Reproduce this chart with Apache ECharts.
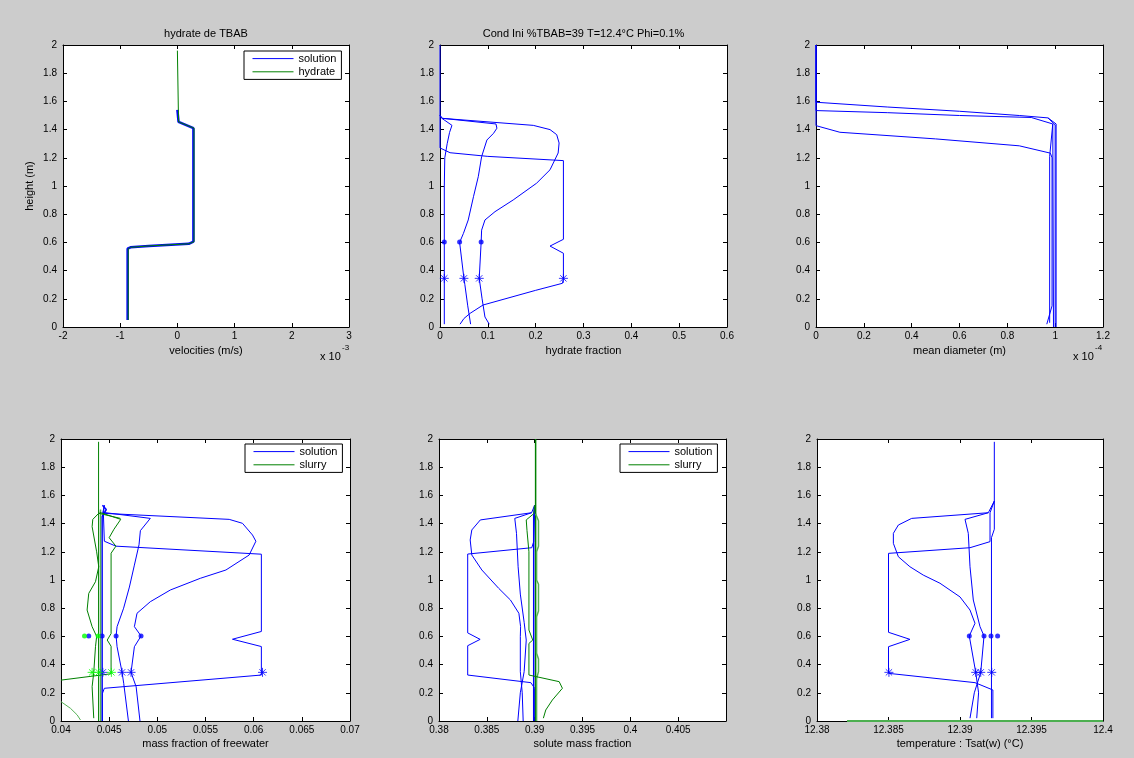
<!DOCTYPE html>
<html><head><meta charset="utf-8">
<script src="https://cdn.jsdelivr.net/npm/echarts@6/dist/echarts.min.js"></script>
<style>html,body{margin:0;padding:0;background:#cccccc;}#c{width:1134px;height:758px;}</style>
</head><body><div id="c"></div><script>
// ---------- DATA ----------
const yTicks = [0,0.2,0.4,0.6,0.8,1,1.2,1.4,1.6,1.8,2];
// subplot 1 : velocities (x in 1e-3 m/s)
const velSolution = [[-0.87,0.05],[-0.87,0.555],[-0.82,0.565],[-0.5,0.575],[0.2,0.59],[0.28,0.605],[0.28,1.41],[0.02,1.455],[0,1.46],[0,1.54]];
const velHydrate  = [[-0.86,0.05],[-0.86,0.555],[-0.82,0.565],[-0.5,0.575],[0.2,0.59],[0.29,0.605],[0.29,1.41],[0.02,1.455],[0,1.46],[0,1.96]];
// subplot 2 : hydrate fraction
const frac1 = [[0.042,0.02],[0.05,0.06],[0.063,0.097],[0.09,0.156],[0.2,0.26],[0.256,0.31],[0.258,0.345],[0.258,0.523],[0.23,0.574],[0.258,0.622],[0.258,1.18],[0.1,1.21],[0.021,1.236],[0,1.27],[0,2]];
const frac2 = [[0.009,0.02],[0.009,0.35],[0.009,0.6],[0.009,1.0],[0.01,1.2],[0.015,1.3],[0.02,1.38],[0.025,1.43],[0.004,1.48],[0,1.5]];
const frac3 = [[0.064,0.02],[0.058,0.15],[0.052,0.3],[0.05,0.345],[0.041,0.6],[0.049,0.664],[0.059,0.759],[0.07,0.924],[0.08,1.066],[0.087,1.208],[0.098,1.326],[0.112,1.374],[0.119,1.41],[0.117,1.44],[0.005,1.48],[0,1.5]];
const frac4 = [[0.103,0.02],[0.094,0.071],[0.088,0.2],[0.082,0.345],[0.086,0.6],[0.087,0.687],[0.094,0.759],[0.115,0.818],[0.153,0.901],[0.202,1.02],[0.23,1.115],[0.247,1.234],[0.249,1.305],[0.244,1.364],[0.23,1.4],[0.195,1.43],[0.004,1.48],[0,1.5]];
const fracStars = [[0.009,0.345],[0.05,0.345],[0.082,0.345],[0.258,0.345]];
const fracDots  = [[0.009,0.603],[0.041,0.603],[0.086,0.603]];
// subplot 3 : mean diameter (x in 1e-4 m)
const diam1 = [[0,2],[0,1.594],[0.3,1.56],[0.6,1.53],[0.85,1.5],[0.97,1.483],[1.0,1.433],[1.0,0]];
const diam2 = [[0,2],[0,1.535],[0.3,1.52],[0.6,1.5],[0.9,1.486],[0.99,1.44],[0.993,0]];
const diam3 = [[0,2],[0,1.428],[0.1,1.381],[0.5,1.334],[0.85,1.285],[0.98,1.233],[0.987,1.2],[0.987,0.15],[0.965,0.02]];
const diam4 = [[0.99,1.44],[0.977,1.21],[0.977,0.03]];
const diam5 = [[0.97,1.483],[1.004,1.44],[1.004,0]];
// subplot 4 : mass fraction of freewater
const fwSol1 = [[0.0443,0],[0.0443,0.196],[0.0445,0.232],[0.0608,0.326],[0.0608,0.528],[0.0578,0.58],[0.0608,0.635],[0.0608,1.183],[0.0457,1.24],[0.0445,1.275],[0.0444,1.47],[0.0445,1.53]];
const fwSol2 = [[0.0482,0],[0.0478,0.243],[0.04727,0.345],[0.04762,0.527],[0.04831,0.603],[0.04762,0.669],[0.04789,0.764],[0.04927,0.846],[0.05135,0.929],[0.05446,1.012],[0.05712,1.071],[0.05953,1.177],[0.06023,1.275],[0.05988,1.319],[0.05884,1.402],[0.05746,1.43],[0.04433,1.473],[0.0445,1.53]];
const fwSol3 = [[0.047,0],[0.04651,0.267],[0.04634,0.345],[0.04582,0.527],[0.04572,0.603],[0.04582,0.669],[0.0465,0.8],[0.0471,0.95],[0.0476,1.1],[0.0481,1.25],[0.04824,1.35],[0.04927,1.437],[0.04433,1.48]];
const fwSol4 = [[0.04427,0],[0.04427,1.45],[0.0447,1.5],[0.0443,1.53]];
const fwSl1 = [[0.0439,0],[0.0439,1.98]];
const fwSl2 = [[0.0441,0],[0.0441,1.5]];
const fwSl3 = [[0.04,0.29],[0.0452,0.335],[0.0452,0.53],[0.0448,0.574],[0.0452,0.62],[0.0452,1.19],[0.0457,1.24],[0.045,1.3],[0.0455,1.36],[0.0462,1.43],[0.044,1.48]];
const fwSl4 = [[0.0434,0.02],[0.04323,0.243],[0.0434,0.345],[0.04358,0.527],[0.0437,0.6],[0.04323,0.669],[0.04271,0.787],[0.04288,0.905],[0.04358,0.988],[0.04392,1.094],[0.0437,1.2],[0.04323,1.378],[0.0433,1.43],[0.04392,1.473],[0.04617,1.437]];
const fwSl5 = [[0.04,0.137],[0.04098,0.09],[0.04168,0.043],[0.04202,0.007]];
const fwSolStars = [[0.04434,0.345],[0.04634,0.345],[0.04727,0.345],[0.06092,0.345]];
const fwSolDots  = [[0.04288,0.603],[0.04427,0.603],[0.04572,0.603],[0.04831,0.603]];
const fwSlStars  = [[0.04323,0.345],[0.04392,0.345],[0.04523,0.345]];
const fwSlDots   = [[0.04244,0.603],[0.04386,0.603]];
// subplot 5 : solute mass fraction
const smSol1 = [[0.39,0],[0.39,0.232],[0.3896,0.272],[0.383,0.326],[0.383,0.534],[0.3843,0.579],[0.383,0.625],[0.383,1.184],[0.3897,1.229],[0.3899,1.272],[0.39,1.48],[0.39,1.53]];
const smSol2 = [[0.3888,0],[0.3887,0.2],[0.3885,0.35],[0.3885,0.6],[0.38853,0.669],[0.38835,0.764],[0.38747,0.858],[0.38624,0.941],[0.38448,1.071],[0.38343,1.177],[0.38326,1.284],[0.38343,1.355],[0.38432,1.426],[0.38968,1.477],[0.39,1.53]];
const smSol3 = [[0.38824,0],[0.3885,0.2],[0.3889,0.35],[0.38912,0.574],[0.3889,0.7],[0.3885,0.9],[0.38827,1.094],[0.3881,1.331],[0.38792,1.437],[0.38968,1.477]];
const smSol4 = [[0.3899,0],[0.3899,1.45],[0.39,1.53]];
const smSl1 = [[0.3901,0],[0.3901,2]];
const smSl2 = [[0.3902,0],[0.3902,0.3],[0.3904,0.35],[0.3904,0.44],[0.3902,0.48],[0.3902,0.74],[0.3904,0.78],[0.3904,0.97],[0.3902,1.0],[0.3902,1.2],[0.3904,1.24],[0.3904,1.42],[0.3901,1.47]];
const smSl3 = [[0.39091,0.02],[0.39116,0.078],[0.39185,0.149],[0.3929,0.232],[0.39256,0.279],[0.3894,0.326],[0.3894,0.55],[0.3898,0.574],[0.3894,0.645],[0.3894,1.2],[0.3892,1.35],[0.38912,1.426],[0.3899,1.47],[0.39,1.53]];
// subplot 6 : temperature Tsat(w)
const tp1 = [[12.3923,0.02],[12.3923,0.22],[12.39105,0.272],[12.385,0.338],[12.385,0.527],[12.3865,0.579],[12.385,0.629],[12.385,1.189],[12.3907,1.229],[12.3921,1.272],[12.3921,1.477],[12.3924,1.56]];
const tp2 = [[12.39117,0.02],[12.3913,0.2],[12.3911,0.345],[12.39065,0.603],[12.39105,0.693],[12.3907,0.787],[12.39,0.88],[12.3886,0.977],[12.38743,1.035],[12.3865,1.094],[12.38569,1.165],[12.38534,1.26],[12.38534,1.331],[12.38569,1.39],[12.38662,1.437],[12.39198,1.477],[12.3924,1.56]];
const tp3 = [[12.3907,0.02],[12.391,0.2],[12.39145,0.345],[12.39168,0.603],[12.3914,0.669],[12.39093,0.858],[12.3907,1.094],[12.39058,1.331],[12.39035,1.43],[12.39198,1.477]];
const tp4 = [[12.3922,0.02],[12.3922,1.3],[12.3924,1.36],[12.3924,1.98]];
const tpSlurry = [[12.3821,0],[12.4,0]];
const tpStars = [[12.38503,0.345],[12.3911,0.345],[12.39145,0.345],[12.39222,0.345]];
const tpDots  = [[12.39065,0.603],[12.39168,0.603],[12.39217,0.603],[12.39263,0.603]];

// ---------- LAYOUT ----------
const BLUE='#0000ff', GREEN='#008000', LGREEN='#00ff00', FONT='"Liberation Sans", Arial, sans-serif';
const grids = [
  {left:63, top:45, width:286, height:282},
  {left:440, top:45, width:287, height:282},
  {left:816, top:45, width:287, height:282},
  {left:61, top:439, width:289, height:282},
  {left:439, top:439, width:287, height:282},
  {left:817, top:439, width:286, height:282}
];
const xCfg = [
  {min:-2, max:3, interval:1, name:'velocities (m/s)', title:'hydrate de TBAB'},
  {min:0, max:0.6, interval:0.1, name:'hydrate fraction', title:'Cond Ini %TBAB=39 T=12.4°C Phi=0.1%'},
  {min:0, max:1.2, interval:0.2, name:'mean diameter (m)', title:''},
  {min:0.04, max:0.07, interval:0.005, name:'mass fraction of freewater', title:''},
  {min:0.38, max:0.41, interval:0.005, name:'solute mass fraction', title:'', hideAbove:0.4075},
  {min:12.38, max:12.4, interval:0.005, name:'temperature : Tsat(w) (°C)', title:''}
];
const xAxis=[], yAxis=[];
xCfg.forEach((c,i)=>{
  const common = {type:'value', gridIndex:i, min:c.min, max:c.max, interval:c.interval,
    axisLine:{show:true, onZero:false, lineStyle:{color:'#000', width:1}},
    axisTick:{show:true, inside:true, length:4, lineStyle:{color:'#000'}},
    splitLine:{show:false}};
  xAxis.push(Object.assign({}, common, {position:'bottom',
    axisLabel:{color:'#000', fontSize:10, fontFamily:FONT, margin:4,
      formatter:v=>(c.hideAbove!==undefined && v>c.hideAbove)?'':String(+v.toFixed(4))},
    name:c.name, nameLocation:'middle', nameGap:i<3?18:17,
    nameTextStyle:{color:'#000', fontSize:11, fontFamily:FONT}}));
  xAxis.push(Object.assign({}, common, {position:'top', axisLabel:{show:false},
    name:c.title, nameLocation:'middle', nameGap:6,
    nameTextStyle:{color:'#000', fontSize:11, fontFamily:FONT}}));
  const yc = {type:'value', gridIndex:i, min:0, max:2, interval:0.2,
    axisLine:{show:true, onZero:false, lineStyle:{color:'#000', width:1}},
    axisTick:{show:true, inside:true, length:4, lineStyle:{color:'#000'}},
    splitLine:{show:false}};
  yAxis.push(Object.assign({}, yc, {position:'left',
    axisLabel:{color:'#000', fontSize:10, fontFamily:FONT, margin:6},
    name:i===0?'height (m)':'', nameLocation:'middle', nameGap:28, nameRotate:90,
    nameTextStyle:{color:'#000', fontSize:11, fontFamily:FONT}}));
  yAxis.push(Object.assign({}, yc, {position:'right', axisLabel:{show:false}}));
});

function ln(g, name, data, color, width, extra){
  return Object.assign({type:'line', name:name, data:data, xAxisIndex:2*g, yAxisIndex:2*g,
    symbol:'none', showSymbol:false, animation:false, silent:true,
    lineStyle:{color:color, width:width||1}, itemStyle:{color:color}}, extra||{});
}
const STAR='path://M5,0L5,10M0,5L10,5M1.5,1.5L8.5,8.5M1.5,8.5L8.5,1.5';
function mk(g, data, kind, color){
  return {type:'scatter', name:'m', data:data, xAxisIndex:2*g, yAxisIndex:2*g, animation:false, silent:true, z:5,
    symbol: kind==='star'?STAR:'circle', symbolSize: kind==='star'?9:5,
    itemStyle: kind==='star'?{color:'rgba(0,0,0,0)', borderColor:color, borderWidth:1}:{color:color}};
}

const series = [
  ln(0,'solution',velSolution,BLUE,2.5),
  ln(0,'hydrate',velHydrate,GREEN,1),
  ln(1,'f1',frac1,BLUE), ln(1,'f2',frac2,BLUE), ln(1,'f3',frac3,BLUE), ln(1,'f4',frac4,BLUE),
  mk(1,fracStars,'star',BLUE), mk(1,fracDots,'dot',BLUE),
  ln(2,'d1',diam1,BLUE), ln(2,'d2',diam2,BLUE), ln(2,'d3',diam3,BLUE), ln(2,'d4',diam4,BLUE), ln(2,'d5',diam5,BLUE),
  ln(3,'solution',fwSol1,BLUE), ln(3,'solution',fwSol2,BLUE), ln(3,'solution',fwSol3,BLUE), ln(3,'solution',fwSol4,BLUE,1.5),
  ln(3,'slurry',fwSl1,GREEN), ln(3,'slurry',fwSl2,'#55b055',1.5), ln(3,'slurry',fwSl3,GREEN), ln(3,'slurry',fwSl4,GREEN), ln(3,'slurry',fwSl5,'#55b055'),
  mk(3,fwSolStars,'star',BLUE), mk(3,fwSolDots,'dot',BLUE), mk(3,fwSlStars,'star',LGREEN), mk(3,fwSlDots,'dot',LGREEN),
  ln(4,'solution',smSol1,BLUE), ln(4,'solution',smSol2,BLUE), ln(4,'solution',smSol3,BLUE), ln(4,'solution',smSol4,BLUE,1.5),
  ln(4,'slurry',smSl1,GREEN,1.5), ln(4,'slurry',smSl2,'#55b055',1.5), ln(4,'slurry',smSl3,GREEN),
  ln(5,'t1',tp1,BLUE), ln(5,'t2',tp2,BLUE), ln(5,'t3',tp3,BLUE), ln(5,'t4',tp4,BLUE),
  ln(5,'tslurry',tpSlurry,'#4caf50',2,{clip:false, z:6}),
  mk(5,tpStars,'star',BLUE), mk(5,tpDots,'dot',BLUE)
];

const legendCommon = {orient:'vertical', selectedMode:false, backgroundColor:'#fff', borderColor:'#000', borderWidth:1,
  borderRadius:0, padding:[2,5,2,8], itemWidth:41, itemHeight:14, itemGap:2,
  itemStyle:{opacity:0}, lineStyle:{width:1, opacity:1}, textStyle:{color:'#000', fontSize:11, fontFamily:FONT}};
const legend = [
  Object.assign({}, legendCommon, {data:['solution','hydrate'], left:244, top:51}),
  Object.assign({}, legendCommon, {data:['solution','slurry'], left:245, top:444}),
  Object.assign({}, legendCommon, {data:['solution','slurry'], left:620, top:444})
];

const graphic = [
  {type:'text', x:320, y:357, style:{text:'x 10', fontSize:11, fontFamily:FONT, fill:'#000', verticalAlign:'middle'}},
  {type:'text', x:342, y:348, style:{text:'-3', fontSize:8, fontFamily:FONT, fill:'#000', verticalAlign:'middle'}},
  {type:'text', x:1073, y:357, style:{text:'x 10', fontSize:11, fontFamily:FONT, fill:'#000', verticalAlign:'middle'}},
  {type:'text', x:1095, y:348, style:{text:'-4', fontSize:8, fontFamily:FONT, fill:'#000', verticalAlign:'middle'}}
];

const chart = echarts.init(document.getElementById('c'), null, {renderer:'canvas'});
chart.setOption({
  backgroundColor:'#cccccc', animation:false, textStyle:{fontFamily:FONT},
  grid: grids.map(g=>Object.assign({show:true, backgroundColor:'#fff', borderWidth:0}, g)),
  xAxis:xAxis, yAxis:yAxis, series:series, legend:legend, graphic:graphic
});
</script></body></html>
